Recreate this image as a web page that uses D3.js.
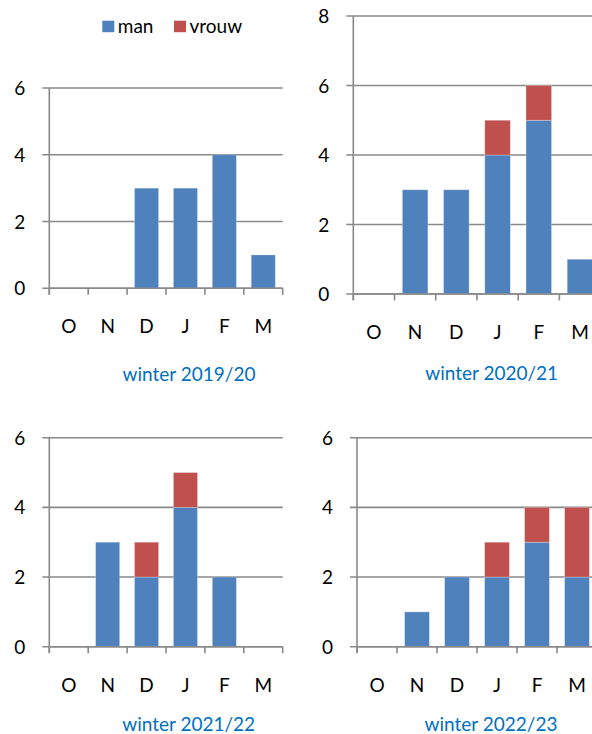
<!DOCTYPE html>
<html>
<head>
<meta charset="utf-8">
<script src="https://cdn.jsdelivr.net/npm/d3@7"></script>
<style>
  body { margin: 0; background: #fff; }
  svg { display: block; font-family: Lato, "Open Sans", sans-serif; }
</style>
</head>
<body>
<div id="chart"></div>
<script>
// Months on the x axis
const months = ["O", "N", "D", "J", "F", "M"];
const seriesNames = ["man", "vrouw"];
const seriesColors = ["#4f81bd", "#c0504d"];

// Values per winter
const titles = ["winter 2019/20", "winter 2020/21", "winter 2021/22", "winter 2022/23"];
const man_2019 = [0, 0, 3, 3, 4, 1];
const vrouw_2019 = [0, 0, 0, 0, 0, 0];
const man_2020 = [0, 3, 3, 4, 5, 1];
const vrouw_2020 = [0, 0, 0, 1, 1, 0];
const man_2021 = [0, 3, 2, 4, 2, 0];
const vrouw_2021 = [0, 0, 1, 1, 0, 0];
const man_2022 = [0, 1, 2, 2, 3, 2];
const vrouw_2022 = [0, 0, 0, 1, 1, 2];
const yMaxes = [6, 8, 6, 6];
const yTicks = [[0, 2, 4, 6], [0, 2, 4, 6, 8], [0, 2, 4, 6], [0, 2, 4, 6]];

const manSets = [man_2019, man_2020, man_2021, man_2022];
const vrouwSets = [vrouw_2019, vrouw_2020, vrouw_2021, vrouw_2022];

// Panel frames (left, right, top, bottom of plot area, title centre)
const panels = [
    { left: 49.3, right: 282.7, top: 88, bottom: 288.3, titleX: 189, titleY: 380.5 },
    { left: 353.3, right: 600.6, top: 16, bottom: 294, titleX: 491.7, titleY: 380 },
    { left: 49.3, right: 282.7, top: 437.7, bottom: 646.7, titleX: 188.7, titleY: 731 },
    { left: 357, right: 597, top: 437.7, bottom: 646.7, titleX: 491, titleY: 731 }
];

const svg = d3.select("#chart")
    .append("svg")
    .attr("width", 592)
    .attr("height", 734);

const gridColor = "#898989";
const fontSize = 19;

panels.forEach((p, i) => {
    const g = svg.append("g");

    const x = d3.scaleBand()
        .domain(months)
        .range([p.left, p.right])
        .padding(0);

    const y = d3.scaleLinear()
        .domain([0, yMaxes[i]])
        .range([p.bottom, p.top]);

    // Horizontal grid lines with left tick stubs
    g.selectAll(".grid")
        .data(yTicks[i])
        .enter()
        .append("line")
        .attr("x1", p.left - 7)
        .attr("x2", p.right)
        .attr("y1", d => y(d))
        .attr("y2", d => y(d))
        .attr("stroke", gridColor)
        .attr("stroke-width", 1.6);

    // Y labels
    g.selectAll(".ylab")
        .data(yTicks[i])
        .enter()
        .append("text")
        .attr("x", p.left - 24)
        .attr("y", d => y(d) + 7)
        .attr("text-anchor", "end")
        .attr("font-size", fontSize)
        .attr("fill", "#000")
        .text(d => d);

    // Stacked bars
    const rows = months.map((m, j) => ({ month: m, man: manSets[i][j], vrouw: vrouwSets[i][j] }));
    const stacked = d3.stack().keys(seriesNames)(rows);
    const bw = x.bandwidth() * 0.62;
    const off = (x.bandwidth() - bw) / 2;

    stacked.forEach((layer, k) => {
        g.selectAll(".bar" + k)
            .data(layer.filter(d => d[1] > d[0]))
            .enter()
            .append("rect")
            .attr("x", d => x(d.data.month) + off)
            .attr("width", bw)
            .attr("y", d => y(d[1]))
            .attr("height", d => y(d[0]) - y(d[1]))
            .attr("fill", seriesColors[k])
            .attr("stroke", "rgba(255,255,255,0.35)")
            .attr("stroke-width", 0.8);
    });

    // Y axis line
    g.append("line")
        .attr("x1", p.left).attr("x2", p.left)
        .attr("y1", p.top).attr("y2", p.bottom + 6)
        .attr("stroke", gridColor)
        .attr("stroke-width", 1.6);

    // X axis line and boundary ticks
    g.append("line")
        .attr("x1", p.left).attr("x2", p.right)
        .attr("y1", p.bottom).attr("y2", p.bottom)
        .attr("stroke", gridColor)
        .attr("stroke-width", 1.6);

    const bounds = months.map(m => x(m)).concat([p.right]);
    g.selectAll(".xt")
        .data(bounds)
        .enter()
        .append("line")
        .attr("x1", d => d).attr("x2", d => d)
        .attr("y1", p.bottom).attr("y2", p.bottom + 6.5)
        .attr("stroke", gridColor)
        .attr("stroke-width", 1.6);

    // Month labels
    g.selectAll(".xlab")
        .data(months)
        .enter()
        .append("text")
        .attr("x", d => x(d) + x.bandwidth() / 2)
        .attr("y", p.bottom + 45)
        .attr("text-anchor", "middle")
        .attr("font-size", fontSize)
        .attr("fill", "#000")
        .text(d => d);

    // Panel title
    g.append("text")
        .attr("x", p.titleX)
        .attr("y", p.titleY)
        .attr("text-anchor", "middle")
        .attr("font-size", fontSize)
        .attr("fill", "#0070c0")
        .text(titles[i]);
});

// Legend
const legend = svg.append("g");
const legendX = [102.3, 174];
seriesNames.forEach((s, k) => {
    legend.append("rect")
        .attr("x", legendX[k])
        .attr("y", 20.7)
        .attr("width", 12)
        .attr("height", 11.5)
        .attr("fill", seriesColors[k]);
    legend.append("text")
        .attr("x", legendX[k] + 15.5)
        .attr("y", 32.5)
        .attr("font-size", fontSize)
        .attr("fill", "#000")
        .text(s);
});
</script>
</body>
</html>
